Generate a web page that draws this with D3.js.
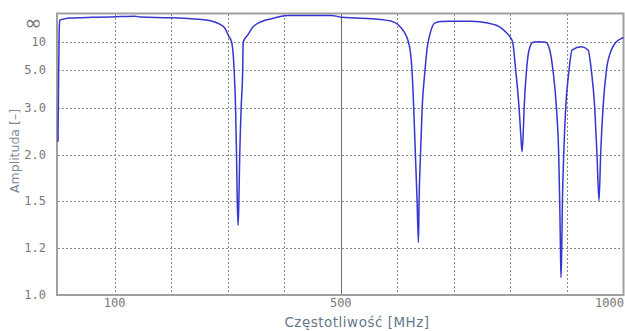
<!DOCTYPE html>
<html>
<head>
<meta charset="utf-8">
<script src="https://cdn.jsdelivr.net/npm/d3@7"></script>
<style>
  html, body { margin: 0; padding: 0; background: #fff; }
  svg { display: block; }
</style>
</head>
<body>
<div id="chart"></div>
<script>
"use strict";

/* ── Data (frequency in MHz, amplitude) ── */
const freqMHz = [
  0, 1, 2, 3, 10, 21, 60, 95, 136, 145, 200, 242, 265, 277, 288, 295, 301,
  307, 311.5, 314, 315.7, 317, 318.5, 319.8, 321.4, 323.9, 326.6, 327.5,
  336, 345, 354, 366, 378, 395, 406, 484, 495, 501, 525, 554, 575, 590,
  600, 607, 613, 619, 623, 626, 629, 632, 635, 637.4, 638.5, 641, 644, 649,
  653, 655.5, 660, 666, 677, 690, 731, 760, 775, 784, 793, 800, 804, 809.4,
  815.3, 818.5, 820.6, 822.5, 824.3, 828.4, 833, 840, 850.6, 862.5, 869.6,
  875.4, 881.4, 885.4, 887.2, 888.5, 889.5, 890.8, 892, 894.3, 897.8, 903.5,
  909, 925.6, 937.3, 943.3, 949.1, 953.1, 956.7, 959.6, 963.8, 969.8, 978.6,
  987.5, 997.3, 1000
];
const amplitude = [
  2.2, 4, 15, 45, 55, 70, 85, 94, 130, 90, 75, 56, 45, 35, 26, 20, 13.3,
  10, 5, 3, 2, 1.5, 1.33, 1.5, 2, 3, 5, 10,
  13.6, 22, 31, 45, 60, 120, 200, 200, 110, 85, 70, 60, 48, 38.5,
  28, 20, 15, 10.5, 7.5, 5, 3, 2, 1.5, 1.23, 1.5, 2, 3, 5,
  8.5, 11, 18, 31, 37, 38.5, 38.5, 31, 25, 20, 15, 12, 10, 5,
  3, 2.3, 2.04, 2.3, 3, 4.93, 7.8, 9.93, 10.14, 9.93, 7.8,
  4.93, 3, 2, 1.5, 1.2, 1.066, 1.2, 1.5, 2, 3, 4.93,
  7.8, 8.6, 7.8, 4.93, 3, 2, 1.505, 2, 3, 5, 7.8,
  10.1, 11.6, 12
];

/* ── Axes ── */
const yTickValues = [1.0, 1.2, 1.5, 2.0, 3.0, 5.0, 10, Infinity];
const yTickLabels = ["1.0", "1.2", "1.5", "2.0", "3.0", "5.0", "10", "\u221E"];
const xGridValues = [100, 200, 300, 400, 500, 600, 700, 800, 900];
const xTickValues = [100, 500, 1000];
const xTickLabels = ["100", "500", "1000"];

const W = 625, H = 331;
const plot = { left: 58, right: 623.5, top: 14, bottom: 295 };

const svg = d3.select("#chart")
  .append("svg")
  .attr("width", W)
  .attr("height", H);

/* ── Scales: x linear, y linear in 1/A (A = ∞ at top) ── */
const x = d3.scaleLinear().domain([0, 1000]).range([plot.left, plot.right]);
const yInv = d3.scaleLinear().domain([1, 0]).range([plot.bottom, plot.top]);
const y = a => yInv(1 / a);

const monoFont = "'DejaVu Sans Mono', 'Liberation Mono', monospace";
const sansFont = "'DejaVu Sans', Verdana, sans-serif";

/* ── Grid ── */
svg.append("g")
  .selectAll("line")
  .data(yTickValues.filter(v => v > 1 && isFinite(v)))
  .join("line")
  .attr("x1", plot.left).attr("x2", plot.right)
  .attr("y1", d => Math.round(y(d)) + 0.5)
  .attr("y2", d => Math.round(y(d)) + 0.5)
  .attr("stroke", "#8a8a8a")
  .attr("stroke-dasharray", "2,2");

svg.append("g")
  .selectAll("line")
  .data(xGridValues)
  .join("line")
  .attr("x1", d => Math.round(x(d)) + 0.5)
  .attr("x2", d => Math.round(x(d)) + 0.5)
  .attr("y1", plot.top).attr("y2", plot.bottom)
  .attr("stroke", d => d === 500 ? "#707070" : "#8a8a8a")
  .attr("stroke-dasharray", d => d === 500 ? null : "2,2");

/* ── Frame ── */
svg.append("rect")
  .attr("x", plot.left - 1).attr("y", plot.top - 0.5)
  .attr("width", plot.right - plot.left + 1)
  .attr("height", plot.bottom - plot.top + 0.5)
  .attr("fill", "none")
  .attr("stroke", "#a0a0a0")
  .attr("stroke-width", 2);

/* ── Curve ── */
const points = freqMHz.map((f, i) => ({ f, a: amplitude[i] }));

svg.append("path")
  .datum(points)
  .attr("fill", "none")
  .attr("stroke", "#3535d0")
  .attr("stroke-width", 1.5)
  .attr("d", d3.line()
    .x(d => x(d.f))
    .y(d => y(d.a))
    .curve(d3.curveMonotoneX));

/* ── Y tick labels ── */
svg.append("g")
  .selectAll("text")
  .data(yTickValues)
  .join("text")
  .attr("x", d => isFinite(d) ? 46 : 42)
  .attr("y", d => isFinite(d) ? y(d) + 4 : y(d) + 16)
  .attr("text-anchor", "end")
  .attr("font-family", d => isFinite(d) ? monoFont : sansFont)
  .attr("font-size", d => isFinite(d) ? "12px" : "21px")
  .attr("fill", "#777")
  .text((d, i) => yTickLabels[i]);

/* ── X tick labels ── */
svg.append("g")
  .selectAll("text")
  .data(xTickValues)
  .join("text")
  .attr("x", d => d === 1000 ? W - 1 : x(d))
  .attr("y", 307)
  .attr("text-anchor", d => d === 1000 ? "end" : "middle")
  .attr("font-family", monoFont)
  .attr("font-size", "12px")
  .attr("fill", "#777")
  .text((d, i) => xTickLabels[i]);

/* ── Axis titles ── */
svg.append("text")
  .attr("x", 357).attr("y", 327)
  .attr("text-anchor", "middle")
  .attr("font-family", sansFont)
  .attr("font-size", "13.5px")
  .attr("letter-spacing", "0.5px")
  .attr("fill", "#66778c")
  .text("Częstotliwość [MHz]");

svg.append("text")
  .attr("transform", "translate(19,151) rotate(-90)")
  .attr("text-anchor", "middle")
  .attr("font-family", sansFont)
  .attr("font-size", "12.5px")
  .attr("fill", "#7a8aa0")
  .text("Amplituda [–]");
</script>
</body>
</html>
